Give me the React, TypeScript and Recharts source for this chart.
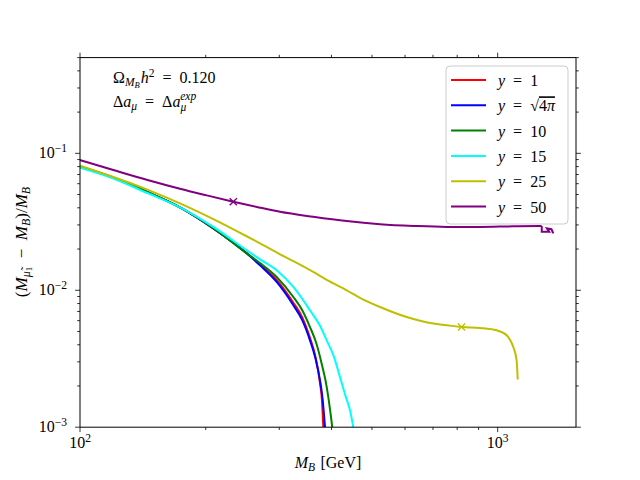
import React from 'react'
import { ComposedChart, Line, Scatter, XAxis, YAxis } from 'recharts'

// M_B [GeV] and (M_mu1 - M_B)/M_B for each coupling y
const massY1 = [100, 120.2, 144.4, 173.5, 208.5, 250.6, 269.8, 295.7, 324.2, 340, 355.3, 366, 375.5, 380, 382.4]
const ratioY1 = [0.0798, 0.0665, 0.0524, 0.0403, 0.0283, 0.0187, 0.0155, 0.0119, 0.0081, 0.0064, 0.0045, 0.0033, 0.0021, 0.0015, 0.0010]

const massY4pi = [100, 120.2, 144.4, 173.5, 208.5, 250.6, 269.8, 295.7, 324.2, 340, 355.3, 366, 375.5, 381, 386]
const ratioY4pi = [0.0798, 0.0665, 0.0524, 0.0403, 0.0283, 0.0186, 0.0152, 0.0115, 0.00777, 0.0061, 0.00431, 0.0032, 0.0022, 0.0016, 0.0010]

const massY10 = [100, 120.2, 144.4, 173.5, 208.5, 250.6, 269.8, 295.7, 324.2, 340, 355.3, 368, 379, 387, 393.1, 401.8]
const ratioY10 = [0.0798, 0.0665, 0.0524, 0.0403, 0.0284, 0.0186, 0.0158, 0.0125, 0.00893, 0.0072, 0.00539, 0.0041, 0.00291, 0.0022, 0.00166, 0.0010]

const massY15 = [100, 120.2, 144.4, 173.5, 208.5, 250.6, 269.8, 295.7, 324.2, 355.3, 375.5, 389.6, 405, 419.3, 432, 443.1, 451.2]
const ratioY15 = [0.0785, 0.0655, 0.0515, 0.0403, 0.0290, 0.0196, 0.0168, 0.0140, 0.01057, 0.00714, 0.0055, 0.00431, 0.0033, 0.00232, 0.0017, 0.00133, 0.0010]

const massY25 = [100, 120.2, 144.4, 173.5, 208.5, 250.6, 269.8, 301.2, 324.2, 361.8, 389.6, 435.1, 468.1, 522.7, 605.6, 701.4, 754.9, 819.3, 907.2, 994.5, 1051, 1072, 1090, 1110, 1117]
const ratioY25 = [0.0812, 0.0671, 0.0545, 0.0431, 0.0331, 0.0248, 0.0220, 0.0183, 0.0163, 0.0136, 0.0119, 0.0100, 0.00881, 0.00755, 0.00638, 0.00571, 0.00556, 0.00539, 0.0053, 0.0051, 0.00469, 0.00431, 0.00385, 0.00308, 0.00223]

// smooth part, then the ragged end of the y = 50 scan
const massY50 = [100, 120.2, 144.4, 173.5, 201.1, 232.8, 264.9, 301.2, 361.8, 435.1, 522.7, 628.2, 754.9, 907.2, 1090, 1263, 1275]
const ratioY50 = [0.0893, 0.0755, 0.0641, 0.0551, 0.0493, 0.0443, 0.0406, 0.0374, 0.0344, 0.0320, 0.0304, 0.0295, 0.0290, 0.0290, 0.0293, 0.0294, 0.0295]
const massY50End = [1275, 1275, 1329, 1312, 1345, 1359]
const ratioY50End = [0.0295, 0.0267, 0.0267, 0.0283, 0.0279, 0.0260]

// benchmark points (x markers)
const markY25 = { m: 819.3, v: 0.00539 }
const markY50 = { m: 232.8, v: 0.0443 }

const xTicks = [100, 200, 300, 400, 500, 600, 700, 800, 900, 1000]
const yTicks = [
  0.001, 0.002, 0.003, 0.004, 0.005, 0.006, 0.007, 0.008, 0.009,
  0.01, 0.02, 0.03, 0.04, 0.05, 0.06, 0.07, 0.08, 0.09,
  0.1, 0.2, 0.3, 0.4, 0.5,
]

const pts = (m: number[], v: number[]) => m.map((x, i) => ({ m: x, v: v[i] }))

const series = [
  { name: '1', color: '#ff0000', data: pts(massY1, ratioY1), curve: 'monotone' },
  { name: 'sqrt', color: '#0000ff', data: pts(massY4pi, ratioY4pi), curve: 'monotone' },
  { name: '10', color: '#008000', data: pts(massY10, ratioY10), curve: 'monotone' },
  { name: '15', color: '#00ffff', data: pts(massY15, ratioY15), curve: 'monotone' },
  { name: '25', color: '#bfbf00', data: pts(massY25, ratioY25), curve: 'monotone' },
  { name: '50', color: '#800080', data: pts(massY50, ratioY50), curve: 'monotone' },
  { name: '50end', color: '#800080', data: pts(massY50End, ratioY50End), curve: 'linear' },
]

const FONT = '"Liberation Serif", "DejaVu Serif", serif'
const FS = 16
const SP = '\u2002'

const isMajor = (v: number) => Math.abs(Math.log10(v) - Math.round(Math.log10(v))) < 1e-6
const expOf = (v: number) => Math.round(Math.log10(v))
const minus = (n: number) => (n < 0 ? '\u2212' + -n : String(n))

const BottomTick = (p: any) => {
  const { x, y, payload } = p
  const major = isMajor(payload.value)
  return (
    <g>
      <line x1={x} x2={x} y1={y} y2={y + (major ? 4.9 : 2.8)} stroke="#000" strokeWidth={0.8} />
      {major && (
        <text x={x} y={y + 21} textAnchor="middle" fontFamily={FONT} fontSize={FS} fill="#000">
          10<tspan dy={-6} fontSize={11.5}>{minus(expOf(payload.value))}</tspan>
        </text>
      )}
    </g>
  )
}

const TopTick = (p: any) => {
  const { x, y, payload } = p
  const major = isMajor(payload.value)
  return <line x1={x} x2={x} y1={y} y2={y - (major ? 4.9 : 2.8)} stroke="#000" strokeWidth={0.8} />
}

const LeftTick = (p: any) => {
  const { x, y, payload } = p
  const major = isMajor(payload.value)
  return (
    <g>
      <line x1={x} x2={x - (major ? 4.9 : 2.8)} y1={y} y2={y} stroke="#000" strokeWidth={0.8} />
      {major && (
        <text x={x - 13} y={y + 4.5} textAnchor="end" fontFamily={FONT} fontSize={FS} fill="#000">
          10<tspan dy={-6} fontSize={11.5}>{minus(expOf(payload.value))}</tspan>
        </text>
      )}
    </g>
  )
}

const RightTick = (p: any) => {
  const { x, y, payload } = p
  const major = isMajor(payload.value)
  return <line x1={x} x2={x + (major ? 4.9 : 2.8)} y1={y} y2={y} stroke="#000" strokeWidth={0.8} />
}

const XMark = (color: string) => (p: any) => {
  const { cx, cy } = p
  const s = 3.6
  return (
    <g stroke={color} strokeWidth={1.4}>
      <line x1={cx - s} y1={cy - s} x2={cx + s} y2={cy + s} />
      <line x1={cx - s} y1={cy + s} x2={cx + s} y2={cy - s} />
    </g>
  )
}

const legendRows = [
  { color: '#ff0000', label: '1' },
  { color: '#0000ff', label: null },
  { color: '#008000', label: '10' },
  { color: '#00ffff', label: '15' },
  { color: '#bfbf00', label: '25' },
  { color: '#800080', label: '50' },
]

const Overlay = () => (
  <svg width={640} height={480} style={{ position: 'absolute', left: 0, top: 0, pointerEvents: 'none' }}>
    <g fontFamily={FONT} fontSize={FS} fill="#000">
      {/* annotations */}
      <text x={113} y={83}>
        Ω<tspan fontSize={11.5} dy={3} fontStyle="italic">M</tspan>
        <tspan fontSize={8.5} dy={2} fontStyle="italic">B</tspan>
        <tspan dy={-5} dx={1} fontStyle="italic">h</tspan>
        <tspan fontSize={11.5} dy={-6}>2</tspan>
        <tspan dy={6}>{SP + '=' + SP + '0.120'}</tspan>
      </text>
      <text x={113} y={106.5}>
        Δ<tspan fontStyle="italic">a</tspan>
        <tspan fontSize={11.5} dy={3} fontStyle="italic">μ</tspan>
        <tspan dy={-3}>{SP + '=' + SP + 'Δ'}</tspan>
        <tspan fontStyle="italic">a</tspan>
        <tspan fontSize={11.5} dy={4} fontStyle="italic">μ</tspan>
        <tspan fontSize={11.5} dy={-11} dx={-6} fontStyle="italic">exp</tspan>
      </text>

      {/* axis labels */}
      <text x={328} y={467.5} textAnchor="middle">
        <tspan fontStyle="italic">M</tspan>
        <tspan fontSize={11.5} dy={3} fontStyle="italic">B</tspan>
        <tspan dy={-3}>{'\u2004[GeV]'}</tspan>
      </text>
      <text transform="translate(27,242) rotate(-90)" textAnchor="middle" fontSize={17}>
        (<tspan fontStyle="italic">M</tspan>
        <tspan fontSize={12} dy={3} fontStyle="italic">{'\u03bc\u0303'}</tspan>
        <tspan fontSize={9} dy={2}>1</tspan>
        <tspan dy={-5}>{SP + '\u2212' + SP}</tspan>
        <tspan fontStyle="italic">M</tspan>
        <tspan fontSize={12} dy={3} fontStyle="italic">B</tspan>
        <tspan dy={-3}>)/</tspan>
        <tspan fontStyle="italic">M</tspan>
        <tspan fontSize={12} dy={3} fontStyle="italic">B</tspan>
      </text>

      {/* legend */}
      <rect x={446} y={66} width={122} height={158} rx={4} fill="#fff" fillOpacity={0.8} stroke="#cccccc" strokeWidth={1} />
      {legendRows.map((r, i) => {
        const cy = 80 + i * 25.3
        return (
          <g key={i}>
            <line x1={451} x2={486} y1={cy} y2={cy} stroke={r.color} strokeWidth={2} />
            <text x={498} y={cy + 6}>
              <tspan fontStyle="italic">y</tspan>
              <tspan>{SP + '=' + SP}</tspan>
              {r.label ? (
                <tspan>{r.label}</tspan>
              ) : (
                <>
                  <tspan>√</tspan>
                  <tspan style={{ textDecoration: 'overline' }}>
                    4<tspan fontStyle="italic">π</tspan>
                  </tspan>
                </>
              )}
            </text>
          </g>
        )
      })}
    </g>
  </svg>
)

export default function App() {
  return (
    <div style={{ position: 'absolute', left: 0, top: 0, width: 640, height: 480, background: '#fff' }}>
      <ComposedChart width={640} height={480} margin={{ top: 47.6, right: 54, bottom: 22.8, left: 20 }}>
        <XAxis
          xAxisId="b"
          dataKey="m"
          type="number"
          scale="log"
          domain={[100, 1540]}
          allowDataOverflow
          ticks={xTicks}
          interval={0}
          height={30}
          tickSize={0}
          tickMargin={0}
          tickLine={false}
          tick={BottomTick}
          axisLine={{ stroke: '#000', strokeWidth: 1 }}
        />
        <XAxis
          xAxisId="t"
          orientation="top"
          dataKey="m"
          type="number"
          scale="log"
          domain={[100, 1540]}
          allowDataOverflow
          ticks={xTicks}
          interval={0}
          height={10}
          tickSize={0}
          tickMargin={0}
          tickLine={false}
          tick={TopTick}
          axisLine={{ stroke: '#000', strokeWidth: 1 }}
        />
        <YAxis
          yAxisId="l"
          dataKey="v"
          type="number"
          scale="log"
          domain={[0.001, 0.5]}
          allowDataOverflow
          ticks={yTicks}
          interval={0}
          width={60}
          tickSize={0}
          tickMargin={0}
          tickLine={false}
          tick={LeftTick}
          axisLine={{ stroke: '#000', strokeWidth: 1 }}
        />
        <YAxis
          yAxisId="r"
          orientation="right"
          dataKey="v"
          type="number"
          scale="log"
          domain={[0.001, 0.5]}
          allowDataOverflow
          ticks={yTicks}
          interval={0}
          width={10}
          tickSize={0}
          tickMargin={0}
          tickLine={false}
          tick={RightTick}
          axisLine={{ stroke: '#000', strokeWidth: 1 }}
        />
        {series.map((s) => (
          <Line
            key={s.name}
            xAxisId="b"
            yAxisId="l"
            data={s.data}
            dataKey="v"
            type={s.curve as any}
            stroke={s.color}
            strokeWidth={2}
            dot={false}
            activeDot={false}
            isAnimationActive={false}
          />
        ))}
        <Scatter xAxisId="b" yAxisId="l" data={[markY50]} dataKey="v" shape={XMark('#800080')} isAnimationActive={false} />
        <Scatter xAxisId="b" yAxisId="l" data={[markY25]} dataKey="v" shape={XMark('#bfbf00')} isAnimationActive={false} />
      </ComposedChart>
      <Overlay />
    </div>
  )
}
